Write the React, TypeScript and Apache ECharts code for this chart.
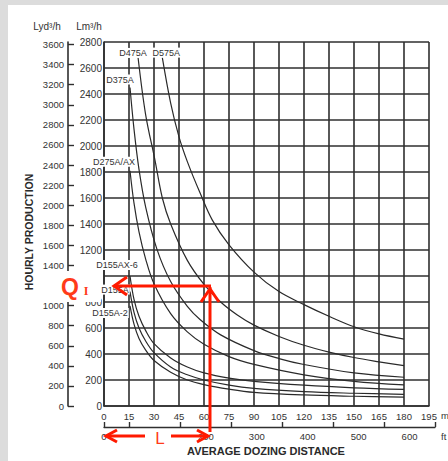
import React, { useEffect, useRef } from "react";
import * as echarts from "echarts";

const FONT = "'Liberation Sans', Arial, Helvetica, sans-serif";

// Axis tick values
const distanceTicksM = [0, 15, 30, 45, 60, 75, 90, 105, 120, 135, 150, 165, 180, 195];
// Lm3/h labels (1000 is hidden under the Q_I note in the reference)
const productionLabelsM3 = [0, 200, 400, 600, 800, 1200, 1400, 1600, 1800, 2000, 2200, 2400, 2600, 2800];
const productionTicksYd3 = [0, 200, 400, 600, 800, 1000, 1200, 1400, 1600, 1800, 2000, 2200, 2400, 2600, 2800, 3000, 3200, 3400, 3600];
// Lyd3/h labels (1200 is hidden under the Q_I note in the reference)
const productionLabelsYd3 = [0, 200, 400, 600, 800, 1000, 1400, 1600, 1800, 2000, 2200, 2400, 2600, 2800, 3000, 3200, 3400, 3600];
// ft labels (100 is hidden under the L note in the reference)
const distanceLabelsFt = [0, 200, 300, 400, 500, 600];
const distanceTicksFt = [0, 50, 150, 250, 350, 450, 550, 650];

// Models (curve names)
const modelNames = ["D575A", "D475A", "D375A", "D275A/AX", "D155AX-6", "D155A", "D155A-2"];

// Curve values: [distance m, production Lm3/h]
const d575a = [[35, 2680], [40, 2330], [45, 2070], [50, 1880], [57.6, 1640], [65, 1430], [75, 1240], [90, 1030], [105, 880], [120, 780], [135, 690], [150, 610], [165, 555], [180, 515]];
const d475a = [[20.4, 2685], [25, 2240], [30.6, 1890], [35, 1600], [40, 1400], [50, 1120], [60, 935], [70, 800], [80, 700], [90, 622], [105, 535], [120, 467], [135, 415], [150, 373], [165, 340], [180, 310]];
const d375a = [[15.6, 2450], [18, 2130], [21, 1820], [25, 1530], [31.8, 1205], [40, 957], [50, 766], [57.6, 665], [70, 547], [90, 426], [105, 365], [120, 319], [150, 255], [180, 221]];
const d275a = [[15.6, 1810], [18, 1560], [21, 1340], [25, 1130], [30, 940], [40, 710], [50, 570], [60, 475], [75, 380], [90, 320], [120, 240], [150, 190], [180, 162]];
const d155ax6 = [[15.6, 1000], [18, 820], [21, 690], [25, 580], [30, 480], [40, 370], [50, 300], [60, 255], [75, 215], [90, 190], [120, 160], [150, 140], [180, 128]];
const d155a = [[15.6, 880], [18, 720], [21, 600], [25, 500], [30, 410], [40, 300], [50, 240], [60, 200], [75, 160], [90, 135], [120, 110], [150, 98], [180, 90]];
const d155a2 = [[15.6, 770], [18, 630], [21, 520], [25, 430], [30, 350], [40, 260], [50, 200], [60, 165], [75, 130], [90, 105], [120, 85], [150, 75], [180, 68]];

const curves = [d575a, d475a, d375a, d275a, d155ax6, d155a, d155a2];

// label placement (style) relative to first point of each curve
const labelOffsets = [[4, -5], [-5, -4], [-10, -8], [-16, -9], [-13, -11], [-15, -2], [-20, 7]];

const GRID = "#2f2f2f";
const TXT = "#333";
const RED = "#ff1a00";
const plain = (v: number) => String(v);

export default function App() {
  const ref = useRef<HTMLDivElement>(null);

  useEffect(() => {
    document.body.style.margin = "0";
    document.body.style.overflow = "hidden";
    if (!ref.current) return;
    const chart = echarts.init(ref.current, undefined, { renderer: "svg" });

    const series: any[] = curves.map((pts, i) => ({
      type: "line",
      name: modelNames[i],
      xAxisIndex: 0,
      yAxisIndex: 0,
      smooth: 0.35,
      symbol: "circle",
      symbolSize: 0.01,
      showSymbol: true,
      showAllSymbol: true,
      lineStyle: { color: "#2a2a2a", width: 1.2 },
      itemStyle: { color: "#2a2a2a" },
      label: { show: false },
      z: 3,
      data: pts.map((p, j) =>
        j === 0
          ? {
              value: p,
              label: {
                show: true,
                formatter: modelNames[i],
                position: "inside",
                offset: labelOffsets[i],
                backgroundColor: "#ffffff",
                padding: [1, 1, 0, 1],
                color: TXT,
                fontFamily: FONT,
                fontSize: 9,
              },
            }
          : p
      ),
    }));

    const option: any = {
      animation: false,
      backgroundColor: "#ffffff",
      grid: [
        { left: 104, right: 19, top: 42, bottom: 55, containLabel: false },
        { left: 104, right: 13, top: 42, bottom: 34, containLabel: false },
      ],
      xAxis: [
        {
          type: "value",
          gridIndex: 0,
          min: 0,
          max: 195,
          interval: 15,
          axisLine: { show: true, lineStyle: { color: GRID, width: 1.6 } },
          axisTick: { show: false },
          axisLabel: { margin: 5, fontSize: 9.5, color: TXT, fontFamily: FONT, formatter: plain, customValues: distanceTicksM },
          splitLine: { show: true, lineStyle: { color: GRID, width: 1.6 } },
        },
        {
          type: "value",
          gridIndex: 1,
          min: 0,
          max: 650,
          position: "bottom",
          axisLine: { show: true, lineStyle: { color: GRID, width: 1.4 } },
          axisTick: { show: true, inside: true, length: 5, lineStyle: { color: GRID, width: 1.4 }, customValues: distanceTicksFt },
          axisLabel: { margin: 4, fontSize: 9.5, color: TXT, fontFamily: FONT, formatter: plain, customValues: distanceLabelsFt },
          splitLine: { show: false },
        },
      ],
      yAxis: [
        {
          type: "value",
          gridIndex: 0,
          min: 0,
          max: 2800,
          interval: 200,
          position: "left",
          axisLine: { show: true, lineStyle: { color: GRID, width: 1.6 } },
          axisTick: { show: false },
          axisLabel: { margin: 2, fontSize: 10, color: TXT, fontFamily: FONT, formatter: plain, customValues: productionLabelsM3 },
          splitLine: { show: true, lineStyle: { color: GRID, width: 1.6 } },
        },
        {
          type: "value",
          gridIndex: 0,
          min: 0,
          max: 3625,
          interval: 200,
          position: "left",
          offset: 36,
          axisLine: { show: true, lineStyle: { color: GRID, width: 1.6 } },
          axisTick: { show: true, inside: true, length: 6, lineStyle: { color: GRID, width: 1.4 }, customValues: productionTicksYd3 },
          axisLabel: { margin: 4, fontSize: 9.5, color: TXT, fontFamily: FONT, formatter: plain, customValues: productionLabelsYd3 },
          splitLine: { show: false },
        },
        { type: "value", gridIndex: 1, show: false, min: 0, max: 1 },
      ],
      series,
      graphic: [
        // grey page border
        { type: "rect", shape: { x: 0, y: 0, width: 448, height: 5 }, style: { fill: "#dcdcdc" }, z: 1 },
        { type: "rect", shape: { x: 0, y: 0, width: 8, height: 461 }, style: { fill: "#dcdcdc" }, z: 1 },
        // unit headers
        { type: "text", x: 47, y: 26, style: { text: "Lyd³/h", fontSize: 10, fill: TXT, fontFamily: FONT, align: "center", verticalAlign: "middle" } },
        { type: "text", x: 89, y: 26, style: { text: "Lm³/h", fontSize: 10, fill: TXT, fontFamily: FONT, align: "center", verticalAlign: "middle" } },
        { type: "text", x: 441, y: 415, style: { text: "m", fontSize: 9.5, fill: TXT, fontFamily: FONT, align: "left", verticalAlign: "middle" } },
        { type: "text", x: 441, y: 436, style: { text: "ft", fontSize: 9.5, fill: TXT, fontFamily: FONT, align: "left", verticalAlign: "middle" } },
        // axis titles
        { type: "text", x: 29, y: 232, rotation: Math.PI / 2, style: { text: "HOURLY PRODUCTION", fontSize: 10.5, fontWeight: "bold", fill: "#2a2a2a", fontFamily: FONT, align: "center", verticalAlign: "middle" } },
        { type: "text", x: 266, y: 451, style: { text: "AVERAGE DOZING DISTANCE", fontSize: 11, fontWeight: "bold", fill: "#2a2a2a", fontFamily: FONT, align: "center", verticalAlign: "middle" } },
        // Q_I annotation
        { type: "rect", z: 50, shape: { x: 45, y: 271, width: 56, height: 31 }, style: { fill: "#ffffff" } },
        { type: "text", z: 51, x: 70, y: 287, style: { text: "Q", fontSize: 23, fontWeight: "bold", fill: "#ff3b1a", fontFamily: FONT, align: "center", verticalAlign: "middle" } },
        { type: "text", z: 51, x: 86, y: 291, style: { text: "I", fontSize: 12, fontWeight: "bold", fill: "#ff3b1a", fontFamily: "'Liberation Serif', serif", align: "center", verticalAlign: "middle" } },
        { type: "line", z: 52, shape: { x1: 114, y1: 286, x2: 211, y2: 286 }, style: { stroke: RED, lineWidth: 3 } },
        { type: "polyline", z: 52, shape: { points: [[127, 277], [114, 286], [127, 295]] }, style: { stroke: RED, lineWidth: 3, fill: null } },
        { type: "line", z: 52, shape: { x1: 210, y1: 287, x2: 210, y2: 432 }, style: { stroke: RED, lineWidth: 3 } },
        { type: "polyline", z: 52, shape: { points: [[201, 302], [210, 289], [219, 302]] }, style: { stroke: RED, lineWidth: 3, fill: null } },
        // L annotation
        { type: "rect", z: 50, shape: { x: 145, y: 429, width: 26, height: 19 }, style: { fill: "#ffffff" } },
        { type: "line", z: 52, shape: { x1: 106, y1: 436, x2: 145, y2: 436 }, style: { stroke: RED, lineWidth: 3 } },
        { type: "line", z: 52, shape: { x1: 171, y1: 436, x2: 207, y2: 436 }, style: { stroke: RED, lineWidth: 3 } },
        { type: "polyline", z: 52, shape: { points: [[117, 430], [106, 436], [117, 442]] }, style: { stroke: RED, lineWidth: 3, fill: null } },
        { type: "polyline", z: 52, shape: { points: [[197, 430], [208, 436], [197, 442]] }, style: { stroke: RED, lineWidth: 3, fill: null } },
        { type: "text", z: 51, x: 160, y: 438, style: { text: "L", fontSize: 17, fill: "#ff3b1a", fontFamily: FONT, align: "center", verticalAlign: "middle" } },
      ],
    };

    chart.setOption(option);
    return () => chart.dispose();
  }, []);

  return (
    <div style={{ position: "fixed", left: 0, top: 0, width: 448, height: 461 }}>
      <div ref={ref} style={{ width: 448, height: 461 }} />
    </div>
  );
}
